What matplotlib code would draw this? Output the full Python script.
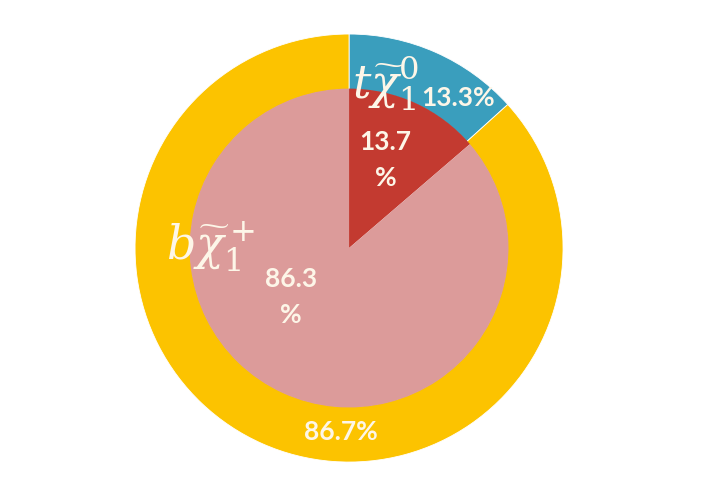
import matplotlib.pyplot as plt

# outer ring: decay channels of the stop
outer_labels = ['$t\\widetilde{\\chi}_1^0$', '$b\\widetilde{\\chi}_1^+$']
outer_vals = [13.3, 86.7]
outer_colors = ['#3a9ebd', '#fcc300']
# inner pie
inner_vals = [13.7, 86.3]
inner_colors = ['#c33a30', '#dc9b9a']

plt.rcParams['mathtext.fontset'] = 'dejavuserif'
txt = '#fdf6e8'

fig = plt.figure(figsize=(7.03, 4.98), dpi=100)
ax = fig.add_axes([0, 0, 1, 1])

# outer ring
ax.pie(outer_vals, colors=outer_colors, startangle=90, counterclock=False,
       radius=1.0, wedgeprops=dict(width=0.26, edgecolor='white', linewidth=0.6))
# inner pie
ax.pie(inner_vals, colors=inner_colors, startangle=90, counterclock=False,
       radius=0.745, wedgeprops=dict(edgecolor='none'))

ax.set_xlim(-1.631, 1.654)
ax.set_ylim(-1.168, 1.159)
ax.set_aspect('auto')
ax.axis('off')

font = dict(family='Lato', fontweight='bold', color=txt, ha='center', va='center')

# species labels
ax.text(0.17, 0.77, outer_labels[0], fontsize=33, color=txt, ha='center', va='center')
ax.text(-0.645, 0.01, outer_labels[1], fontsize=33, color=txt, ha='center', va='center')

# percentages
ax.text(0.51, 0.70, f'{outer_vals[0]}%', fontsize=19, **font)
ax.text(-0.04, -0.86, f'{outer_vals[1]}%', fontsize=19, **font)
ax.text(0.17, 0.41, f'{inner_vals[0]}\n%', fontsize=19, linespacing=1.6, **font)
ax.text(-0.27, -0.23, f'{inner_vals[1]}\n%', fontsize=19, linespacing=1.6, **font)

fig.savefig('out.png', dpi=100)
